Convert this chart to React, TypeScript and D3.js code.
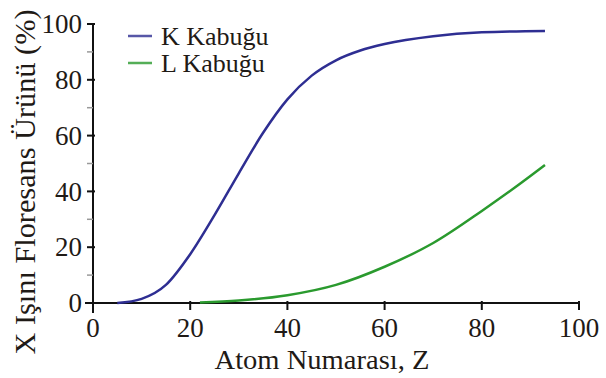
import React from "react";
import * as d3 from "d3";

const zK = [5, 10, 15, 20, 25, 30, 35, 40, 45, 50, 55, 60, 70, 80, 93];
const kValues = [0, 1.5, 6.5, 17.5, 31.5, 46.5, 61, 73, 81.5, 87, 90.5, 92.8, 95.6, 97, 97.5];
const zL = [22, 30, 40, 50, 60, 70, 80, 90, 93];
const lValues = [0.2, 0.9, 2.8, 6.5, 13, 21.5, 33, 45.5, 49.5];
const xTicks = [0, 20, 40, 60, 80, 100];
const yTicks = [0, 20, 40, 60, 80, 100];
const yMinor = [10, 30, 50, 70, 90];
const seriesNames = ["K Kabuğu", "L Kabuğu"];
const xTitle = "Atom Numarası, Z";
const yTitle = "X Işını Floresans Ürünü (%)";

const FONT = "'Liberation Serif', 'Times New Roman', Times, serif";
const TEXT = "#1f1a16";
const BLUE = "#2e2e92";
const GREEN = "#2a9a2e";
const tStyle = { fontFamily: FONT };

export default function App() {
  const x = d3.scaleLinear().domain([0, 100]).range([93, 579]);
  const y = d3.scaleLinear().domain([0, 100]).range([303, 24]);
  const line = d3
    .line<[number, number]>()
    .x((d) => x(d[0]))
    .y((d) => y(d[1]))
    .curve(d3.curveMonotoneX);
  const kPath = line(zK.map((z, i) => [z, kValues[i]]) as [number, number][]) || "";
  const lPath = line(zL.map((z, i) => [z, lValues[i]]) as [number, number][]) || "";
  const colors = [BLUE, GREEN];

  return (
    <svg
      width={606}
      height={378}
      style={{ position: "absolute", left: 0, top: 0, background: "#fff", fontFamily: FONT }}
    >
      <rect width={606} height={378} fill="#fff" />
      {/* axes */}
      <line x1={x(0)} x2={x(0)} y1={y(100)} y2={313} stroke="#111" strokeWidth={2} />
      <line x1={85} x2={x(100)} y1={y(0)} y2={y(0)} stroke="#111" strokeWidth={2} />
      {yTicks.map((t) => (
        <g key={"y" + t}>
          <line x1={x(0) - 6} x2={x(0) + 2} y1={y(t)} y2={y(t)} stroke="#111" strokeWidth={2} />
          <text x={82} y={y(t)} dy="0.34em" textAnchor="end" fontSize={27} fill={TEXT} style={tStyle}>
            {t}
          </text>
        </g>
      ))}
      {yMinor.map((t) => (
        <line key={"m" + t} x1={x(0) - 6} x2={x(0)} y1={y(t)} y2={y(t)} stroke="#999" strokeWidth={1.5} />
      ))}
      {xTicks.map((t) => (
        <g key={"x" + t}>
          <line x1={x(t)} x2={x(t)} y1={y(0) - 2} y2={y(0) + 7} stroke="#111" strokeWidth={2} />
          <text x={x(t)} y={337} textAnchor="middle" fontSize={27} fill={TEXT} style={tStyle}>
            {t}
          </text>
        </g>
      ))}
      {/* titles */}
      <text
        x={322}
        y={369}
        textAnchor="middle"
        fontSize={27}
        fill={TEXT}
        textLength={215}
        lengthAdjust="spacingAndGlyphs"
        style={tStyle}
      >
        {xTitle}
      </text>
      <text
        transform="translate(35,182) rotate(-90)"
        textAnchor="middle"
        fontSize={29}
        fill={TEXT}
        textLength={345}
        lengthAdjust="spacingAndGlyphs"
        style={tStyle}
      >
        {yTitle}
      </text>
      {/* curves */}
      <path d={lPath} fill="none" stroke={GREEN} strokeWidth={2.5} strokeLinejoin="round" />
      <path d={kPath} fill="none" stroke={BLUE} strokeWidth={2.5} strokeLinejoin="round" />
      {/* legend */}
      {seriesNames.map((name, i) => (
        <g key={name} transform={`translate(0,${36 + i * 27})`}>
          <line x1={128} x2={152} y1={0} y2={0} stroke={colors[i]} strokeWidth={2.5} opacity={0.8} />
          <text x={161} y={0} dy="0.34em" fontSize={26} fill={TEXT} style={tStyle}>
            {name}
          </text>
        </g>
      ))}
    </svg>
  );
}
